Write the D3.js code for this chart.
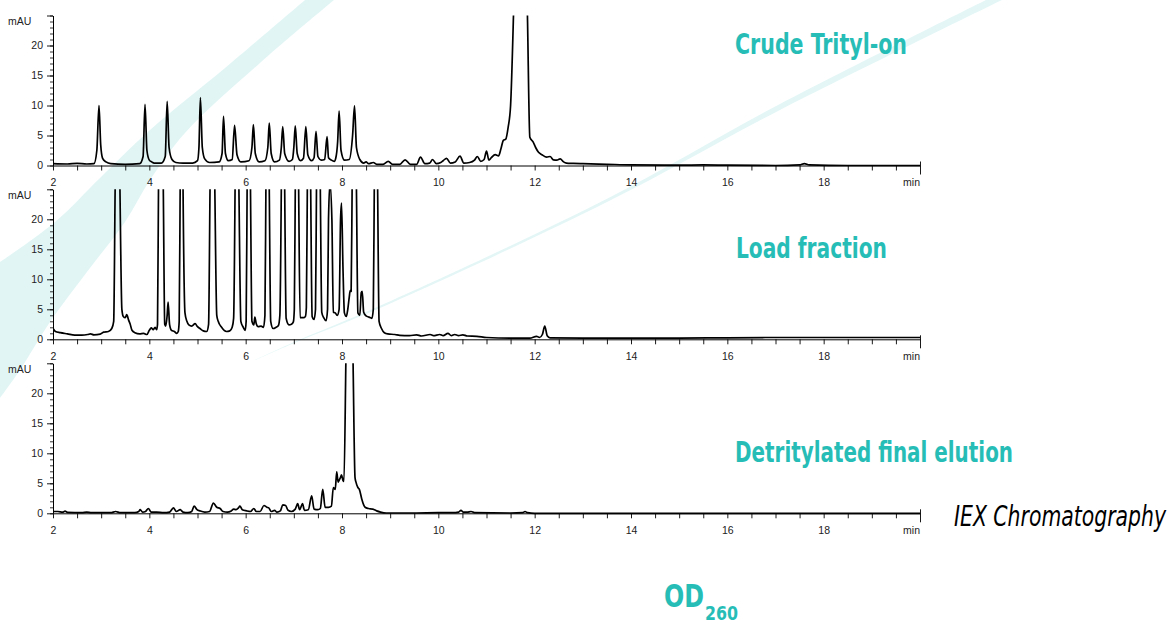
<!DOCTYPE html>
<html><head><meta charset="utf-8">
<script src="https://cdn.jsdelivr.net/npm/d3@7"></script>
<style>
html,body{margin:0;padding:0;background:#fff;}
svg{display:block;}
.tick text{font-family:"Liberation Sans",Arial,sans-serif;font-size:10.5px;fill:#222;}
</style></head>
<body>
<svg id="chart" width="1173" height="622"></svg>
<script>
// ---------- DATA (time in min, absorbance in mAU) ----------
const panelNames = ["Crude Trityl-on", "Load fraction", "Detritylated final elution"];
const xMajorTicks = [2, 4, 6, 8, 10, 12, 14, 16, 18];
const xEndLabel = "min";
const yMajorTicks = [0, 5, 10, 15, 20];
const yUnit = "mAU";
const footnote = "IEX Chromatography";
const odMain = "OD";
const odSub = "260";

const crude = [
[2.0,0.3],[2.3,0.25],[2.5,0.35],[2.7,0.25],[2.85,0.3],
[2.91,2.5],[2.955,10],[2.99,3.5],[3.03,1.2],[3.1,0.6],[3.2,0.3],
[3.5,0.2],[3.8,0.3],[3.87,1.5],[3.91,10.2],[3.95,2.5],[4.0,0.9],[4.05,0.6],[4.1,0.4],
[4.25,0.4],[4.33,1.5],[4.37,10.7],[4.41,3],[4.47,1.0],[4.55,0.5],
[4.7,0.4],[4.9,0.4],[5.0,0.8],[5.03,3],[5.06,11.3],[5.1,3],[5.15,1.1],[5.25,0.5],
[5.45,0.6],[5.51,2],[5.54,8.2],[5.58,2],[5.64,0.8],
[5.72,1],[5.77,6.7],[5.82,1.8],[5.9,0.6],
[6.07,0.8],[6.13,3],[6.16,6.8],[6.2,2],[6.28,0.6],
[6.4,0.8],[6.46,3],[6.49,7.05],[6.53,2],[6.6,0.6],
[6.7,0.9],[6.74,3],[6.77,6.5],[6.81,2],[6.9,0.7],
[6.97,1],[7.0,3],[7.03,6.6],[7.07,2],[7.14,0.8],
[7.2,1.2],[7.25,6.5],[7.29,1.8],[7.37,0.8],
[7.42,1.3],[7.46,5.7],[7.5,1.5],[7.57,0.9],
[7.64,1.0],[7.69,4.8],[7.72,1.3],[7.78,0.9],[7.84,0.7],[7.87,1.2],
[7.91,4],[7.94,9.05],[7.98,2.5],[8.05,0.9],[8.15,1.0],
[8.22,5],[8.26,9.95],[8.3,3],[8.37,1.0],[8.45,0.4],
[8.5,0.6],[8.55,0.3],[8.65,0.5],[8.72,0.2],[8.85,0.2],[8.96,0.7],[9.05,0.2],[9.2,0.2],
[9.31,0.95],[9.42,0.2],[9.55,0.2],[9.63,1.4],[9.72,0.3],[9.82,0.4],[9.88,1.0],[9.96,0.3],
[10.05,0.5],[10.1,0.8],[10.17,1.2],[10.25,0.4],[10.35,0.6],[10.45,1.55],[10.53,0.4],
[10.65,0.5],[10.75,0.9],[10.81,1.5],[10.88,0.7],[10.95,1.0],[11.0,2.4],[11.05,0.9],
[11.1,1.3],[11.18,1.8],[11.25,1.6],[11.3,2.8],[11.35,4.2],[11.4,4.4],[11.45,6.4],[11.5,10],
[11.56,25],[11.7,80],[11.85,25],[11.9,4.7],[11.97,3.9],[12.02,3.0],[12.08,2.2],[12.15,1.8],
[12.25,1.4],[12.32,1.5],[12.39,0.95],[12.46,0.9],[12.53,1.1],[12.6,0.6],[12.66,0.4],
[12.8,0.35],[13.0,0.3],[13.5,0.2],[14.0,0.1],[15.0,0.05],[15.5,0.1],[16,0.05],[17.0,0.0],
[17.5,0.1],[17.6,0.3],[17.7,0.1],[18.5,0.0],[20,0]
];

const loadFraction = [
[2.0,1.8],[2.05,1.3],[2.15,1.1],[2.3,0.9],[2.45,0.7],[2.6,0.7],[2.72,0.8],[2.78,0.9],[2.85,0.75],
[2.98,0.85],[3.05,1.2],[3.15,1.3],[3.22,1.8],[3.26,3],[3.29,25],[3.34,60],[3.39,25],[3.43,5],
[3.46,3.8],[3.5,3.6],[3.53,4.1],[3.57,3.2],[3.6,2.6],[3.64,1.5],[3.7,1.1],[3.8,0.9],[3.88,1.0],
[3.95,0.8],[4.0,1.5],[4.04,1.9],[4.08,1.6],[4.12,2.0],[4.15,1.6],[4.17,2.5],[4.19,25],[4.24,60],
[4.29,25],[4.32,2.5],[4.34,2.2],[4.37,4],[4.39,6.2],[4.42,2.5],[4.46,1.5],[4.52,1.3],[4.57,1.0],
[4.6,1.3],[4.62,3],[4.64,25],[4.67,60],[4.7,25],[4.74,4.4],[4.78,3],[4.82,2.4],[4.88,2.2],
[4.95,2.6],[5.0,2.1],[5.05,1.8],[5.12,1.4],[5.19,1.3],[5.23,2.5],[5.26,25],[5.31,60],[5.36,25],
[5.4,4],[5.43,3.0],[5.5,2.0],[5.6,1.3],[5.67,1.4],[5.72,2.0],[5.75,3.5],[5.78,25],[5.81,60],
[5.86,25],[5.9,3.0],[5.95,2.0],[5.99,1.5],[6.01,3],[6.03,25],[6.06,60],[6.1,25],[6.13,3.0],
[6.17,2.4],[6.19,3.7],[6.22,2.6],[6.26,2.1],[6.32,2.2],[6.37,2.0],[6.4,4],[6.42,25],[6.45,60],
[6.49,25],[6.52,3],[6.57,1.8],[6.63,2.0],[6.68,2.3],[6.71,4],[6.74,25],[6.77,60],[6.81,25],
[6.84,3.5],[6.9,2.4],[6.95,2.5],[6.99,2.9],[7.01,5],[7.03,25],[7.06,60],[7.1,25],[7.13,3.6],
[7.2,3.6],[7.24,3.8],[7.26,5.3],[7.28,25],[7.31,60],[7.35,25],[7.38,3.8],[7.42,3.3],[7.45,5],
[7.47,25],[7.51,60],[7.55,25],[7.58,4.5],[7.62,3.6],[7.67,3.1],[7.7,5],[7.72,20],[7.75,26],
[7.79,20],[7.82,4.5],[7.86,4.4],[7.9,4.0],[7.94,5],[7.97,20],[7.99,22.7],[8.02,12],[8.05,4.4],
[8.09,3.8],[8.12,5.0],[8.15,7],[8.17,8.1],[8.19,8],[8.21,25],[8.25,60],[8.3,25],[8.33,4.4],
[8.37,4.0],[8.4,7.8],[8.42,8.0],[8.45,4.5],[8.5,3.9],[8.56,3.7],[8.62,3.5],[8.65,5],[8.67,25],
[8.7,60],[8.74,25],[8.77,3],[8.82,1.8],[8.88,1.1],[8.95,0.9],[9.1,0.8],[9.2,0.65],[9.4,0.6],
[9.55,0.75],[9.65,0.55],[9.83,0.8],[9.9,0.6],[10.03,0.8],[10.1,0.6],[10.2,1.0],[10.27,0.6],
[10.34,0.8],[10.42,0.6],[10.51,0.75],[10.6,0.55],[10.8,0.5],[11.0,0.3],[11.5,0.2],[11.9,0.2],
[12.04,0.5],[12.1,0.3],[12.16,0.8],[12.21,2.2],[12.26,0.6],[12.32,0.25],[13,0.2],[15,0.2],
[16,0.25],[17,0.3],[18,0.3],[20,0.3]
];

const finalElution = [
[2.0,0.3],[2.1,0.3],[2.2,0.2],[2.25,0.35],[2.3,0.15],[2.6,0.1],[2.7,0.2],[2.8,0.1],[3.2,0.1],
[3.3,0.3],[3.4,0.1],[3.7,0.1],[3.78,0.3],[3.81,0.6],[3.86,0.2],[3.92,0.3],[3.98,0.8],[4.04,0.2],
[4.15,0.2],[4.3,0.1],[4.42,0.2],[4.5,0.9],[4.56,0.3],[4.64,0.6],[4.7,0.2],[4.8,0.1],[4.88,0.3],
[4.93,1.2],[4.99,0.6],[5.05,0.4],[5.15,0.2],[5.25,0.3],[5.33,1.7],[5.4,1.0],[5.47,0.8],
[5.53,0.3],[5.62,0.2],[5.7,0.4],[5.75,0.7],[5.8,0.6],[5.85,0.9],[5.88,1.2],[5.93,0.6],
[6.02,0.4],[6.1,0.3],[6.17,0.8],[6.22,0.3],[6.3,0.3],[6.38,1.3],[6.44,1.0],[6.48,0.9],
[6.53,0.3],[6.6,0.5],[6.65,0.2],[6.72,0.4],[6.77,1.4],[6.83,1.3],[6.88,0.5],[6.95,0.3],
[7.03,0.7],[7.08,1.6],[7.12,0.6],[7.18,1.6],[7.22,0.5],[7.3,0.6],[7.37,2.9],[7.42,0.7],
[7.5,0.6],[7.55,0.8],[7.6,4.0],[7.65,1.0],[7.72,1.0],[7.78,1.2],[7.82,4.3],[7.86,4.0],
[7.89,6.9],[7.92,5.2],[7.94,5.5],[7.97,6.0],[7.99,6.4],[8.02,5.5],[8.04,5.3],[8.08,25],
[8.15,70],[8.23,25],[8.27,6],[8.29,5.2],[8.33,4.3],[8.36,4.0],[8.41,2.4],[8.45,1.4],[8.48,1.0],
[8.55,0.8],[8.64,0.7],[8.72,0.4],[8.8,0.2],[8.92,0.05],[9.5,0.05],[10.0,0.1],[10.3,0.1],
[10.42,0.2],[10.47,0.5],[10.52,0.2],[10.6,0.2],[10.68,0.3],[10.75,0.1],[11.5,0.05],[11.75,0.1],
[11.8,0.3],[11.85,0.1],[12.0,0],[20,0]
];

const series = [crude, loadFraction, finalElution];

// ---------- LAYOUT ----------
const svg = d3.select("#chart");
const teal = "#27bdb7";
const band = "#e2f5f5";
const panelBase = [165.5, 339.3, 513.3];   // pixel y of 0 mAU
const panelH = 150;                        // 25 mAU
const labelPos = [{x:735,y:54,w:172},{x:736,y:258,w:151},{x:735,y:461.5,w:278}];

const x = d3.scaleLinear().domain([2, 20]).range([53, 920]);

// background decoration (swooshes)
const bg = svg.append("g");
const edge = d3.line().curve(d3.curveCatmullRom);
const bigLeft = [[305,0],[225,68],[150,130],[100,178],[55,222],[0,262]];
const bigRight = [[0,398],[20,370],[50,322],[90,268],[125,222],[150,180],[185,133],[260,63],[334,0]];
bg.append("path").attr("d", edge(bigLeft) + "L" + edge(bigRight).slice(1) + "Z").attr("fill", band);
const thinUp = [[255,360],[300,339.6],[380,305.8],[608,198.2],[780,104],[992,-3]];
const thinLo = [[1004,-1],[780,110],[608,201.6],[380,308],[300,340.6],[255,360.3]];
bg.append("path").attr("d", edge(thinUp) + "L" + edge(thinLo).slice(1) + "Z").attr("fill", "#e4f6f6");

series.forEach((data, i) => {
  const y0 = panelBase[i];
  const y = d3.scaleLinear().domain([0, 25]).range([y0, y0 - panelH]);
  const g = svg.append("g");

  const cid = "clip" + i;
  svg.append("clipPath").attr("id", cid).append("rect")
    .attr("x", 53).attr("y", y0 - panelH).attr("width", 867).attr("height", panelH + 4);

  // x axis
  const xa = g.append("g").attr("transform", `translate(0,${y0})`)
    .call(d3.axisBottom(x).tickValues(d3.range(2, 20.01, 0.5))
      .tickSizeInner(5).tickSizeOuter(0).tickPadding(8)
      .tickFormat(d => xMajorTicks.includes(d) ? String(d) : ""));
  xa.select(".domain").attr("stroke", "#000").attr("stroke-width", 1);
  xa.selectAll(".tick line").attr("stroke", "#000").attr("stroke-width", 0.9);
  xa.selectAll(".tick").filter(d => d === 20).select("line").attr("y1", -4).attr("y2", 9);
  g.append("text").attr("x", 920).attr("y", y0 + 20.5).attr("text-anchor", "end")
    .attr("font-family", "Liberation Sans, Arial, sans-serif").attr("font-size", 10.5).attr("fill", "#222")
    .text(xEndLabel);

  // y axis
  const ym = g.append("g").attr("transform", "translate(53,0)")
    .call(d3.axisLeft(y).tickValues(d3.range(0, 26)).tickSizeInner(3).tickSizeOuter(0).tickFormat(""));
  ym.select(".domain").attr("stroke", "#000");
  ym.selectAll(".tick line").attr("stroke", "#000").attr("stroke-width", 0.8);
  const yM = g.append("g").attr("transform", "translate(53,0)")
    .call(d3.axisLeft(y).tickValues(yMajorTicks.concat([25])).tickSizeInner(6).tickSizeOuter(0).tickPadding(4)
      .tickFormat(d => yMajorTicks.includes(d) ? String(d) : ""));
  yM.select(".domain").remove();
  yM.selectAll(".tick line").attr("stroke", "#000").attr("stroke-width", 0.9);
  g.append("text").attr("x", 8).attr("y", y0 - panelH + 9.5)
    .attr("font-family", "Liberation Sans, Arial, sans-serif").attr("font-size", 10.5).attr("fill", "#222")
    .text(yUnit);

  // trace
  const line = d3.line().x(d => x(d[0])).y(d => y(d[1])).curve(d3.curveMonotoneX);
  g.append("path").datum(data).attr("d", line).attr("clip-path", `url(#${cid})`)
    .attr("fill", "none").attr("stroke", "#000").attr("stroke-width", 1.7).attr("stroke-linejoin", "round");

  // panel title
  const lp = labelPos[i];
  g.append("text").attr("x", lp.x).attr("y", lp.y)
    .attr("font-family", "'Liberation Sans Narrow','DejaVu Sans Condensed',Arial,sans-serif")
    .attr("font-weight", "bold").attr("font-size", 29).attr("fill", teal)
    .attr("textLength", lp.w).attr("lengthAdjust", "spacingAndGlyphs")
    .text(panelNames[i]);
});

svg.append("text").attr("x", 954).attr("y", 525.5)
  .attr("font-family", "'Liberation Sans Narrow','DejaVu Sans Condensed',Arial,sans-serif")
  .attr("font-style", "italic").attr("font-size", 28).attr("fill", "#000")
  .attr("textLength", 212).attr("lengthAdjust", "spacingAndGlyphs")
  .text(footnote);

svg.append("text").attr("x", 664).attr("y", 606.5)
  .attr("font-family", "'Liberation Sans Narrow','DejaVu Sans Condensed',Arial,sans-serif")
  .attr("font-weight", "bold").attr("font-size", 32).attr("fill", teal)
  .attr("textLength", 40).attr("lengthAdjust", "spacingAndGlyphs")
  .text(odMain);
svg.append("text").attr("x", 705).attr("y", 620)
  .attr("font-family", "'Liberation Sans Narrow','DejaVu Sans Condensed',Arial,sans-serif")
  .attr("font-weight", "bold").attr("font-size", 19).attr("fill", teal)
  .attr("textLength", 33).attr("lengthAdjust", "spacingAndGlyphs")
  .text(odSub);
</script>
</body></html>
